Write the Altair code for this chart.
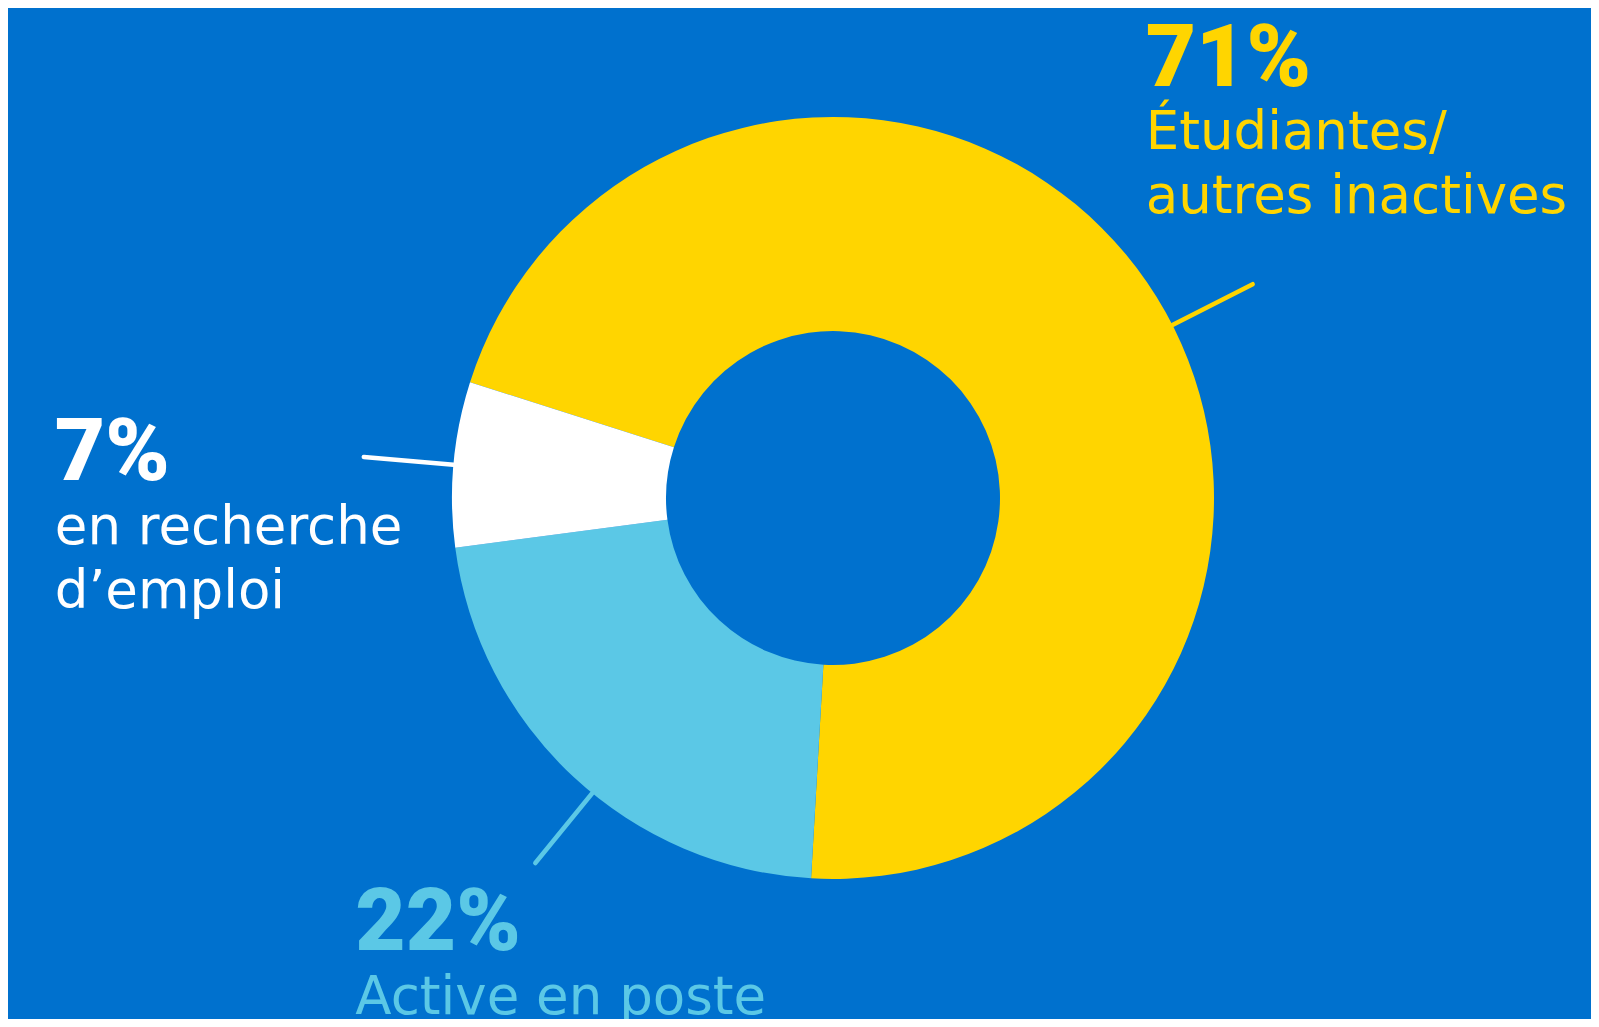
import math
import altair as alt
import pandas as pd

# ---- data ----
categories = ["Étudiantes/autres inactives", "Active en poste", "En recherche d'emploi"]
values = [71, 22, 7]
pct_labels = ["71%", "22%", "7%"]
desc_lines = [["Étudiantes/", "autres inactives"], ["Active en poste"], ["en recherche", "d’emploi"]]
leader_angles_deg = [63.0, 219.2, 275.0]  # clockwise from 12 o'clock

# ---- styles ----
BG = "#0071CE"
colors = ["#FFD500", "#5BC8E6", "#FFFFFF"]
CX, CY = 825, 490
R_OUT, R_IN = 381, 167
R_LEAD_END = 471
START = math.radians(-72.3)
PCT_FONT = "Roboto"
DESC_FONT = "DejaVu Sans"
# label offsets from leader end: (dx, dy of percentage baseline, dy of first description baseline)
label_offsets = {
    categories[0]: (-107, -198, -135),
    categories[1]: (-180, 87, 151),
    categories[2]: (-309, 23, 87),
}

df = pd.DataFrame({
    "category": categories,
    "value": values,
    "order": list(range(len(categories))),
    "pct": pct_labels,
    "desc": desc_lines,
    "angle": [math.radians(a) for a in leader_angles_deg],
    "ldx": [label_offsets[c][0] for c in categories],
    "pdy": [label_offsets[c][1] for c in categories],
    "ddy": [label_offsets[c][2] for c in categories],
})

color_scale = alt.Scale(domain=categories, range=colors)
base = alt.Chart(df)

arcs = base.mark_arc(innerRadius=R_IN, outerRadius=R_OUT, stroke=None).encode(
    theta=alt.Theta("value:Q", stack=True, scale=alt.Scale(range=[START, START + 2 * math.pi])),
    color=alt.Color("category:N", scale=color_scale, legend=None),
    order=alt.Order("order:Q"),
    x=alt.value(CX),
    y=alt.value(CY),
)

geo = base.transform_calculate(
    x1=f"{CX} + {R_OUT} * sin(datum.angle)",
    y1=f"{CY} - {R_OUT} * cos(datum.angle)",
    x2=f"{CX} + {R_LEAD_END} * sin(datum.angle)",
    y2=f"{CY} - {R_LEAD_END} * cos(datum.angle)",
).transform_calculate(
    tx="datum.x2 + datum.ldx",
    py="datum.y2 + datum.pdy",
    dy_="datum.y2 + datum.ddy",
)

lines = geo.mark_rule(strokeWidth=4.5, strokeCap="round").encode(
    x=alt.X("x1:Q", scale=None, axis=None),
    y=alt.Y("y1:Q", scale=None, axis=None),
    x2="x2:Q",
    y2="y2:Q",
    color=alt.Color("category:N", scale=color_scale, legend=None),
)

pct_text = geo.mark_text(
    font=PCT_FONT, fontSize=87, fontWeight=900, align="left", baseline="alphabetic"
).encode(
    x=alt.X("tx:Q", scale=None, axis=None),
    y=alt.Y("py:Q", scale=None, axis=None),
    text="pct:N",
    color=alt.Color("category:N", scale=color_scale, legend=None),
)

desc_text = geo.mark_text(
    font=DESC_FONT, fontSize=53, fontWeight=400, align="left", baseline="alphabetic", lineHeight=64
).encode(
    x=alt.X("tx:Q", scale=None, axis=None),
    y=alt.Y("dy_:Q", scale=None, axis=None),
    text="desc",
    color=alt.Color("category:N", scale=color_scale, legend=None),
)

chart = alt.layer(arcs, lines, pct_text, desc_text).properties(
    width=1583,
    height=1011,
    padding=0,
    autosize=alt.AutoSizeParams(type="fit", contains="padding"),
).configure(background=BG).configure_view(stroke=None)

chart.save("out.html", embed_options={"renderer": "svg", "actions": False})
